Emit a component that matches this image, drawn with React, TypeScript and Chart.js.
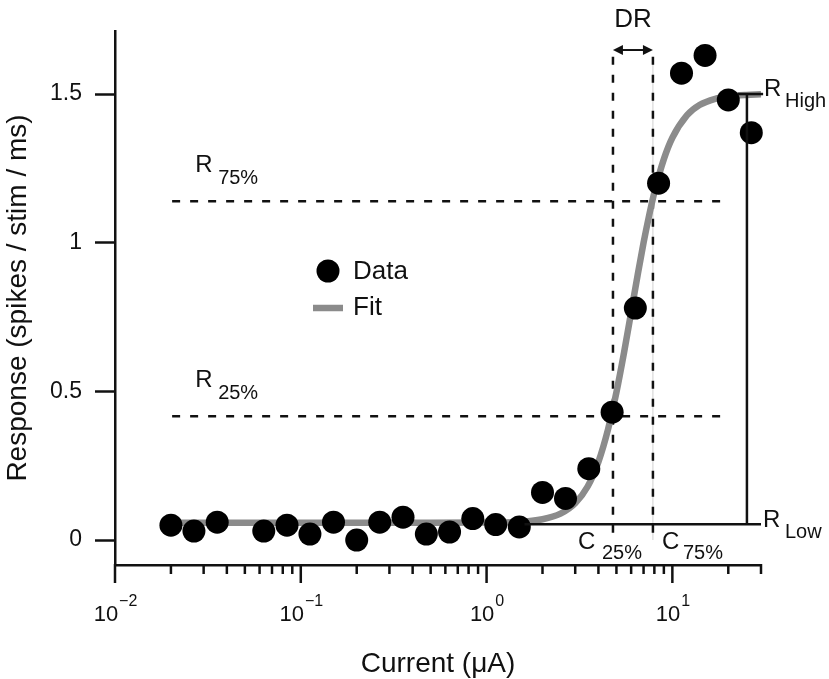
import { useEffect, useRef } from 'react';
import { Chart, registerables } from 'chart.js';

Chart.register(...registerables);

// ---- data ----
const DATA_X = [0.02, 0.0266, 0.0355, 0.0632, 0.0843, 0.112, 0.15, 0.2, 0.266, 0.355, 0.474, 0.632, 0.843, 1.12, 1.5, 2.0, 2.66, 3.55, 4.74, 6.32, 8.43, 11.2, 15.0, 20.0, 26.6];
const DATA_Y = [0.05, 0.03, 0.06, 0.03, 0.05, 0.02, 0.06, 0.0, 0.06, 0.077, 0.02, 0.027, 0.072, 0.052, 0.044, 0.16, 0.14, 0.24, 0.43, 0.78, 1.2, 1.57, 1.63, 1.48, 1.37];

const FIT_X = [0.02, 0.1, 0.5, 1, 1.5, 2, 2.5, 3, 3.5, 4, 4.5, 5, 5.5, 6, 6.5, 7, 7.5, 8, 9, 10, 12, 14, 17, 20, 25, 30];
const FIT_Y = [0.058, 0.058, 0.058, 0.059, 0.061, 0.07, 0.089, 0.124, 0.18, 0.263, 0.371, 0.497, 0.632, 0.766, 0.89, 1.0, 1.092, 1.169, 1.281, 1.353, 1.429, 1.463, 1.484, 1.492, 1.497, 1.499];

const Y_TICKS = [0, 0.5, 1, 1.5];
const Y_TICK_LABELS = ['0', '0.5', '1', '1.5'];
const X_MAJOR_TICKS = [0.01, 0.1, 1, 10];
const X_MAJOR_EXPONENTS = ['\u22122', '\u22121', '0', '1'];
const X_MINOR_TICKS = [
  0.02, 0.03, 0.04, 0.05, 0.06, 0.07, 0.08, 0.09,
  0.2, 0.3, 0.4, 0.5, 0.6, 0.7, 0.8, 0.9,
  2, 3, 4, 5, 6, 7, 8, 9,
  20, 30,
];

// annotation values
const R_LOW = 0.053;
const R_HIGH = 1.5;
const R_25 = 0.416;
const R_75 = 1.139;
const C_25 = 4.79;
const C_75 = 7.86;
const X_RANGE_LINE = 25.2;
const H_DASH_START = 0.0203;
const H_DASH_END = 18.7;
const V_DASH_TOP = 1.625;
const V_DASH_BOTTOM = 0.0;
const DR_Y = 1.648;
const R_LOW_START = 1.6;
const R_HIGH_START = 22.5;
const R_END = 30;
const R_HIGH_END = 30.8;

const FONT = '"Liberation Sans", Arial, Helvetica, sans-serif';
const INK = '#111111';
const GRAY = '#8b8b8b';

function text(ctx: CanvasRenderingContext2D, s: string, x: number, y: number, size: number, align: CanvasTextAlign = 'left') {
  ctx.font = `${size}px ${FONT}`;
  ctx.textAlign = align;
  ctx.textBaseline = 'alphabetic';
  ctx.fillStyle = INK;
  ctx.fillText(s, x, y);
}

const annotPlugin = {
  id: 'annot',
  beforeDatasetsDraw(chart: any) {
    const ctx: CanvasRenderingContext2D = chart.ctx;
    const xs = chart.scales.x;
    const ys = chart.scales.y;
    const X = (v: number) => xs.getPixelForValue(v);
    const Y = (v: number) => ys.getPixelForValue(v);
    ctx.save();
    // faint solid line behind C75 dashes
    ctx.strokeStyle = '#cfcfcf';
    ctx.lineWidth = 1;
    ctx.beginPath();
    ctx.moveTo(X(C_75), Y(V_DASH_TOP));
    ctx.lineTo(X(C_75), Y(V_DASH_BOTTOM));
    ctx.stroke();

    ctx.strokeStyle = INK;
    ctx.lineWidth = 2.5;
    ctx.setLineDash([8, 10]);
    for (const r of [R_25, R_75]) {
      ctx.beginPath();
      ctx.moveTo(X(H_DASH_START), Y(r));
      ctx.lineTo(X(H_DASH_END), Y(r));
      ctx.stroke();
    }
    ctx.lineWidth = 2.5;
    for (const c of [C_25, C_75]) {
      ctx.beginPath();
      ctx.moveTo(X(c), Y(V_DASH_TOP));
      ctx.lineTo(X(c), Y(V_DASH_BOTTOM));
      ctx.stroke();
    }
    ctx.restore();
  },
  afterDatasetsDraw(chart: any) {
    const ctx: CanvasRenderingContext2D = chart.ctx;
    const xs = chart.scales.x;
    const ys = chart.scales.y;
    const X = (v: number) => xs.getPixelForValue(v);
    const Y = (v: number) => ys.getPixelForValue(v);
    const area = chart.chartArea;
    ctx.save();
    ctx.strokeStyle = INK;
    ctx.lineWidth = 2.5;
    ctx.setLineDash([]);
    // R low line
    ctx.beginPath();
    ctx.moveTo(X(R_LOW_START), Y(R_LOW));
    ctx.lineTo(X(R_END), Y(R_LOW));
    ctx.stroke();
    // R high line
    ctx.beginPath();
    ctx.moveTo(X(R_HIGH_START), Y(R_HIGH));
    ctx.lineTo(X(R_HIGH_END), Y(R_HIGH));
    ctx.stroke();
    // vertical range line
    ctx.beginPath();
    ctx.moveTo(X(X_RANGE_LINE), Y(R_LOW));
    ctx.lineTo(X(X_RANGE_LINE), Y(R_HIGH));
    ctx.stroke();

    // DR arrow
    const ax1 = X(C_25);
    const ax2 = X(C_75);
    const ay = Y(DR_Y);
    ctx.lineWidth = 2;
    ctx.beginPath();
    ctx.moveTo(ax1 + 6, ay);
    ctx.lineTo(ax2 - 6, ay);
    ctx.stroke();
    ctx.fillStyle = INK;
    ctx.beginPath();
    ctx.moveTo(ax1, ay);
    ctx.lineTo(ax1 + 10, ay - 5);
    ctx.lineTo(ax1 + 10, ay + 5);
    ctx.closePath();
    ctx.fill();
    ctx.beginPath();
    ctx.moveTo(ax2, ay);
    ctx.lineTo(ax2 - 10, ay - 5);
    ctx.lineTo(ax2 - 10, ay + 5);
    ctx.closePath();
    ctx.fill();
    text(ctx, 'DR', (ax1 + ax2) / 2, ay - 23, 26, 'center');

    // R75 / R25 labels
    const hx = X(H_DASH_START);
    for (const [r, s] of [[R_75, '75%'], [R_25, '25%']] as [number, string][]) {
      const yy = Y(r);
      text(ctx, 'R', hx + 23, yy - 29, 24);
      text(ctx, s, hx + 46, yy - 17, 20);
    }
    // C labels
    const y0 = Y(0);
    text(ctx, 'C', X(C_25) - 35, y0 + 9, 24);
    text(ctx, '25%', X(C_25) - 11, y0 + 19, 20);
    text(ctx, 'C', X(C_75) + 9, y0 + 9, 24);
    text(ctx, '75%', X(C_75) + 30, y0 + 19, 20);
    // R high / low labels
    const lx = X(R_END);
    text(ctx, 'R', lx + 3, Y(R_HIGH) + 2, 24);
    text(ctx, 'High', lx + 24, Y(R_HIGH) + 13, 20);
    text(ctx, 'R', lx + 2, Y(R_LOW) + 3, 24);
    text(ctx, 'Low', lx + 24, Y(R_LOW) + 14, 20);

    // legend
    const lgx = area.left + 213;
    const lgy = area.top + 240;
    ctx.fillStyle = '#000';
    ctx.beginPath();
    ctx.arc(lgx, lgy, 11.5, 0, Math.PI * 2);
    ctx.fill();
    text(ctx, 'Data', lgx + 25, lgy + 8, 26);
    ctx.strokeStyle = GRAY;
    ctx.lineWidth = 6.5;
    ctx.beginPath();
    ctx.moveTo(lgx - 15, lgy + 37);
    ctx.lineTo(lgx + 15, lgy + 37);
    ctx.stroke();
    text(ctx, 'Fit', lgx + 25, lgy + 44, 26);
    ctx.restore();
  },
  afterDraw(chart: any) {
    const ctx: CanvasRenderingContext2D = chart.ctx;
    const xs = chart.scales.x;
    const yb = chart.chartArea.bottom;
    ctx.save();
    ctx.strokeStyle = INK;
    ctx.lineWidth = 2.5;
    for (const v of X_MINOR_TICKS) {
      const px = xs.getPixelForValue(v);
      ctx.beginPath();
      ctx.moveTo(px, yb - 1);
      ctx.lineTo(px, yb + 9);
      ctx.stroke();
    }
    for (const v of X_MAJOR_TICKS) {
      const px = xs.getPixelForValue(v);
      ctx.beginPath();
      ctx.moveTo(px, yb - 1);
      ctx.lineTo(px, yb + 18);
      ctx.stroke();
    }
    X_MAJOR_TICKS.forEach((v, i) => {
      const px = xs.getPixelForValue(v);
      ctx.font = `22px ${FONT}`;
      const wBase = ctx.measureText('10').width;
      ctx.font = `16px ${FONT}`;
      const wExp = ctx.measureText(X_MAJOR_EXPONENTS[i]).width;
      const start = px - (wBase + wExp) / 2;
      text(ctx, '10', start, yb + 56, 22);
      text(ctx, X_MAJOR_EXPONENTS[i], start + wBase + 1, yb + 41, 16);
    });
    ctx.restore();
  },
};

export default function App() {
  const ref = useRef<HTMLCanvasElement | null>(null);
  useEffect(() => {
    if (!ref.current) return;
    const chart = new Chart(ref.current, {
      type: 'scatter',
      data: {
        datasets: [
          {
            label: 'Data',
            data: DATA_X.map((x, i) => ({ x, y: DATA_Y[i] })),
            backgroundColor: '#000',
            borderWidth: 0,
            pointRadius: 11.5,
            showLine: false,
            order: 0,
            clip: false as any,
          },
          {
            label: 'Fit',
            data: FIT_X.map((x, i) => ({ x, y: FIT_Y[i] })),
            showLine: true,
            borderColor: GRAY,
            borderWidth: 6.5,
            pointRadius: 0,
            cubicInterpolationMode: 'monotone',
            borderCapStyle: 'butt',
            order: 1,
            clip: false as any,
          },
        ],
      },
      options: {
        responsive: false,
        devicePixelRatio: 1,
        animation: false,
        events: [],
        layout: { padding: { left: 0, right: 68, top: 31, bottom: 0 } },
        plugins: {
          legend: { display: false },
          tooltip: { enabled: false },
        },
        scales: {
          x: {
            type: 'logarithmic',
            min: 0.01,
            max: 30,
            afterBuildTicks: (s: any) => {
              s.ticks = [...X_MAJOR_TICKS, ...X_MINOR_TICKS].sort((a, b) => a - b).map((v) => ({ value: v, major: X_MAJOR_TICKS.includes(v) }));
            },
            afterFit: (s: any) => {
              s.height = 114;
            },
            ticks: { display: false },
            grid: { display: false },
            border: { display: true, color: INK, width: 2.5 },
            title: {
              display: true,
              text: 'Current (\u03bcA)',
              color: INK,
              font: { family: FONT, size: 28, lineHeight: 1 },
              padding: { top: 0, bottom: 1 },
            },
          },
          y: {
            type: 'linear',
            min: -0.084,
            max: 1.712,
            afterBuildTicks: (s: any) => {
              s.ticks = Y_TICKS.map((v) => ({ value: v }));
            },
            afterFit: (s: any) => {
              s.width = 115;
            },
            ticks: {
              color: INK,
              font: { family: FONT, size: 23 },
              padding: 13,
              callback: (v: any) => {
                const i = Y_TICKS.indexOf(Number(v));
                return i >= 0 ? Y_TICK_LABELS[i] : '';
              },
            },
            grid: {
              display: true,
              drawOnChartArea: false,
              drawTicks: true,
              tickLength: 20,
              tickWidth: 2.5,
              tickColor: INK,
            },
            border: { display: true, color: INK, width: 2.5 },
            title: {
              display: true,
              text: 'Response (spikes / stim / ms)',
              color: INK,
              font: { family: FONT, size: 28, lineHeight: 1 },
              padding: { top: 4, bottom: 0 },
            },
          },
        },
      },
      plugins: [annotPlugin],
    } as any);
    return () => chart.destroy();
  }, []);
  return (
    <div style={{ position: 'absolute', left: 0, top: 0, width: 829, height: 679 }}>
      <canvas ref={ref} width={829} height={679} style={{ display: 'block' }} />
    </div>
  );
}
